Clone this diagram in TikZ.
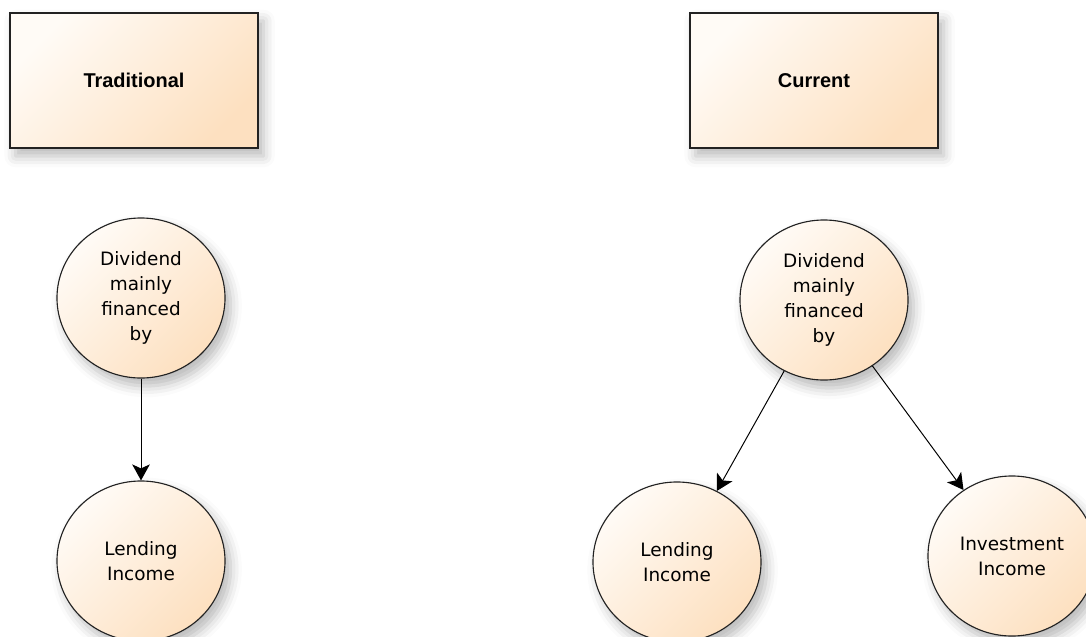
\documentclass[tikz,border=0pt]{standalone}
\usepackage{fontspec}
\setmainfont{DejaVu Sans}
\newfontfamily\headfont{Liberation Sans}
\usepackage{tikz}
\usetikzlibrary{arrows.meta,positioning,shapes.geometric,shadows.blur}
\definecolor{peachlo}{HTML}{FFFBF6}
\definecolor{peachhi}{HTML}{FDE0C0}
\definecolor{edgegray}{HTML}{222222}
\tikzset{
  >=Stealth,
  every node/.append style={font=\fontsize{13.1}{17.8}\selectfont},
}
\tikzset{
  peach/.style={draw=edgegray, line width=0.8pt, top color=peachlo, bottom color=peachhi, shading angle=45,
    blur shadow={shadow xshift=0.14cm, shadow yshift=-0.2cm, shadow blur radius=0.28cm, shadow opacity=28}},
  arr/.style={-{Stealth[length=0.4cm, width=0.44cm, inset=0.1cm]}, line width=0.7pt, draw=black}
}

\begin{document}
\begin{tikzpicture}[
  x=0.025cm, y=-0.025cm,
  headbox/.style={peach, minimum width=6.2cm, minimum height=3.375cm, inner sep=0pt,
    font=\headfont\bfseries\fontsize{14.2}{17}\selectfont},
  bubble/.style={peach, ellipse, minimum width=4.2cm, minimum height=4.0cm, inner sep=0pt, align=center}
]
\useasboundingbox (0,0) rectangle (1086,637);

% Headings (two schemes side by side)
\node[headbox] (trad) at (134,80.5) {Traditional};
\node[headbox] (curr) at (814,80.5) {Current};

% Traditional scheme
\node[bubble] (divtrad) at (141,298) {Dividend\\mainly\\financed\\by};
\node[bubble] (lendtrad) at (141,561) {Lending\\Income};

% Current scheme
\node[bubble] (divcurr) at (824,300) {Dividend\\mainly\\financed\\by};
\node[bubble] (lendcurr) at (677,562) {Lending\\Income};
\node[bubble] (invcurr) at (1012,556) {Investment\\Income};

% Sources of the dividend
\draw[arr] (divtrad) -- (lendtrad);
\draw[arr] (divcurr) -- (lendcurr);
\draw[arr] (divcurr) -- (invcurr);

\end{tikzpicture}
\end{document}
